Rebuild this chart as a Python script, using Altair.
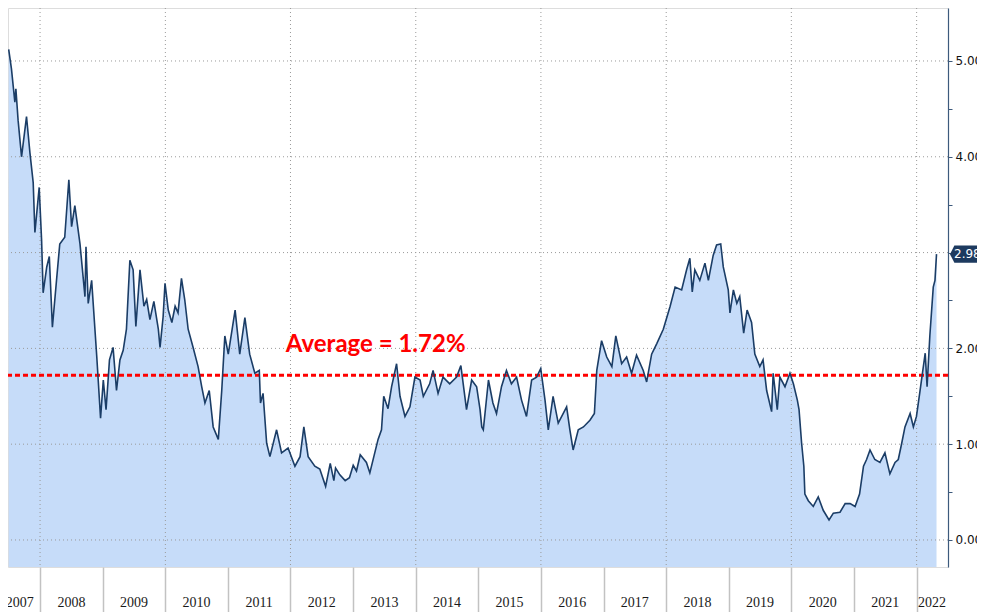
import altair as alt
import pandas as pd

# ---- data (US 5Y yield, %) ----
dates = [
    "2007-07-02", "2007-07-18", "2007-08-07", "2007-08-13", "2007-08-26", "2007-09-15", "2007-10-14",
    "2007-11-03", "2007-11-22", "2007-12-02", "2007-12-27",
    "2008-01-10", "2008-01-19", "2008-02-09", "2008-02-24", "2008-03-13", "2008-04-06", "2008-04-25",
    "2008-05-24", "2008-06-17", "2008-07-03", "2008-07-22", "2008-08-21", "2008-09-19", "2008-09-25",
    "2008-10-08", "2008-10-28", "2008-11-27", "2008-12-19",
    "2009-01-04", "2009-01-20", "2009-02-09", "2009-03-02", "2009-03-22", "2009-04-11", "2009-04-30",
    "2009-05-19", "2009-06-08", "2009-06-27", "2009-07-13", "2009-08-06", "2009-08-29", "2009-09-14",
    "2009-10-03", "2009-10-26", "2009-11-21", "2009-12-01", "2009-12-19", "2009-12-30",
    "2010-01-18", "2010-02-08", "2010-02-27", "2010-03-16", "2010-04-05", "2010-04-24", "2010-05-14",
    "2010-06-12", "2010-07-11", "2010-08-01", "2010-08-20", "2010-09-14", "2010-10-07", "2010-11-06",
    "2010-11-26", "2010-12-14",
    "2011-01-03", "2011-02-12", "2011-03-11", "2011-04-10", "2011-05-08", "2011-06-07", "2011-07-03",
    "2011-07-10", "2011-07-25", "2011-08-15", "2011-09-03", "2011-10-12", "2011-11-10", "2011-12-18",
    "2012-01-27", "2012-02-26", "2012-03-19", "2012-04-13", "2012-05-22", "2012-06-20", "2012-07-24",
    "2012-08-20", "2012-09-10", "2012-09-20", "2012-10-15", "2012-11-15", "2012-12-10",
    "2013-01-01", "2013-01-20", "2013-02-11", "2013-03-19", "2013-04-08", "2013-05-26", "2013-06-15",
    "2013-06-28", "2013-07-23", "2013-08-13", "2013-09-11", "2013-10-01", "2013-10-30", "2013-11-28",
    "2013-12-27",
    "2014-01-26", "2014-02-14", "2014-03-23", "2014-04-12", "2014-05-11", "2014-06-09", "2014-07-18",
    "2014-08-27", "2014-09-21", "2014-10-24", "2014-11-23", "2014-12-22",
    "2015-01-11", "2015-01-21", "2015-01-30", "2015-03-01", "2015-03-27", "2015-04-17", "2015-05-16",
    "2015-06-14", "2015-07-13", "2015-08-12", "2015-09-10", "2015-10-09", "2015-11-08", "2015-12-07",
    "2015-12-31",
    "2016-01-25", "2016-02-13", "2016-03-12", "2016-04-11", "2016-05-30", "2016-06-18", "2016-07-07",
    "2016-08-06", "2016-09-05", "2016-10-13", "2016-11-08", "2016-11-22", "2016-12-20",
    "2017-01-19", "2017-02-18", "2017-03-13", "2017-04-16", "2017-05-15", "2017-06-13", "2017-07-12",
    "2017-08-20", "2017-09-09", "2017-10-08", "2017-11-07", "2017-12-15",
    "2018-01-24", "2018-02-22", "2018-04-01", "2018-04-30", "2018-05-19", "2018-06-02", "2018-06-17",
    "2018-07-16", "2018-08-15", "2018-09-04", "2018-10-02", "2018-10-22", "2018-11-15", "2018-11-30",
    "2018-12-29",
    "2019-01-08", "2019-01-28", "2019-02-17", "2019-03-06", "2019-03-29", "2019-04-18", "2019-05-14",
    "2019-06-02", "2019-07-01", "2019-07-20", "2019-08-10", "2019-09-08", "2019-09-17", "2019-10-11",
    "2019-10-26", "2019-11-25", "2019-12-24",
    "2020-01-13", "2020-02-05", "2020-02-15", "2020-03-01", "2020-03-14", "2020-03-20", "2020-04-09",
    "2020-05-08", "2020-06-06", "2020-07-05", "2020-08-08", "2020-09-02", "2020-10-11", "2020-11-10",
    "2020-12-09",
    "2021-01-07", "2021-02-02", "2021-02-25", "2021-03-15", "2021-04-04", "2021-05-02", "2021-06-01",
    "2021-06-30", "2021-07-29", "2021-08-28", "2021-09-16", "2021-10-06", "2021-10-25", "2021-11-24",
    "2021-12-13", "2021-12-31",
    "2022-01-21", "2022-02-20", "2022-03-03", "2022-03-19", "2022-04-08", "2022-04-18", "2022-04-27",
]
yields = [
    5.12, 4.92, 4.57, 4.71, 4.38, 4.00, 4.42,
    4.04, 3.73, 3.21, 3.68,
    3.13, 2.58, 2.85, 2.96, 2.22, 2.71, 3.09,
    3.16, 3.76, 3.27, 3.49, 3.09, 2.54, 3.06,
    2.47, 2.71, 1.91, 1.27,
    1.67, 1.36, 1.88, 2.01, 1.56, 1.88, 1.98,
    2.20, 2.92, 2.82, 2.23, 2.82, 2.44, 2.51,
    2.30, 2.49, 2.20, 2.01, 2.33, 2.68,
    2.40, 2.27, 2.44, 2.37, 2.73, 2.51, 2.20,
    2.01, 1.81, 1.60, 1.43, 1.56, 1.18, 1.05,
    1.56, 2.13,
    1.94, 2.40, 1.94, 2.32, 1.94, 1.74, 1.77,
    1.43, 1.53, 1.01, 0.87, 1.15, 0.91, 0.96,
    0.77, 0.87, 1.18, 0.87, 0.77, 0.74, 0.56,
    0.80, 0.62, 0.75, 0.68, 0.62, 0.65,
    0.78, 0.72, 0.89, 0.81, 0.70, 1.05, 1.15,
    1.50, 1.37, 1.60, 1.84, 1.50, 1.29, 1.39,
    1.70,
    1.67, 1.50, 1.63, 1.77, 1.53, 1.70, 1.63,
    1.70, 1.82, 1.36, 1.67, 1.60,
    1.36, 1.18, 1.15, 1.67, 1.43, 1.32, 1.60,
    1.77, 1.63, 1.70, 1.46, 1.29, 1.67, 1.70,
    1.79,
    1.46, 1.15, 1.50, 1.22, 1.39, 1.15, 0.94,
    1.15, 1.18, 1.25, 1.32, 1.77, 2.08,
    1.91, 1.81, 2.13, 1.84, 1.91, 1.74, 1.93,
    1.77, 1.65, 1.94, 2.05, 2.20,
    2.44, 2.64, 2.61, 2.82, 2.94, 2.59, 2.82,
    2.71, 2.89, 2.71, 2.97, 3.08, 3.09, 2.85,
    2.61,
    2.37, 2.61, 2.47, 2.54, 2.16, 2.40, 2.27,
    1.94, 1.81, 1.88, 1.56, 1.34, 1.74, 1.36,
    1.70, 1.60, 1.74,
    1.63, 1.46, 1.36, 1.01, 0.77, 0.48, 0.41,
    0.35, 0.45, 0.31, 0.21, 0.28, 0.29, 0.38,
    0.38,
    0.35, 0.48, 0.77, 0.84, 0.94, 0.84, 0.81,
    0.91, 0.69, 0.81, 0.84, 1.01, 1.18, 1.32,
    1.18, 1.29,
    1.56, 1.95, 1.60, 2.13, 2.64, 2.71, 2.9835,
]

AVERAGE = 1.72
LAST_VALUE = 2.9835
avg_label = "Average = 1.72%"
avg_label_date = ["2011-12-05"]
avg_label_value = [1.96]

year_labels = [str(y) for y in range(2007, 2023)]
year_label_dates = ["2007-09-05"] + [f"{y}-07-02" for y in range(2008, 2022)] + ["2022-04-01"]
separator_years = list(range(2008, 2023))
grid_year_dates = [f"{y}-01-01" for y in range(2008, 2023, 2)]
grid_values = [0, 1, 2, 3, 4, 5]
y_tick_values = [0, 0.5, 1, 1.5, 2, 2.5, 3, 3.5, 4, 4.5, 5]

# ---- layout ----
W, H = 940, 559
Y_MIN, Y_MAX = -0.282, 5.553

x_scale = alt.Scale(domain=[alt.DateTime(year=2007, month=6, date=28, utc=True),
                            alt.DateTime(year=2022, month=7, date=3, utc=True)])
y_scale = alt.Scale(domain=[Y_MIN, Y_MAX], nice=False, zero=False)

x_axis = alt.Axis(
    values=[alt.DateTime(year=y, month=1, date=1, utc=True) for y in separator_years],
    labels=False, grid=False, domain=False, title=None,
    tickSize=45, tickColor="#c2c2c2", tickWidth=1.5,
)
y_axis = alt.Axis(
    orient="right", values=y_tick_values, grid=False, title=None,
    labelExpr="datum.value % 1 == 0 && datum.value != 3 ? format(datum.value, '.4f') : ''",
    labelFont="DejaVu Sans", labelFontSize=12, labelColor="#111111", labelPadding=3,
    domainColor="#3d5a7c", domainWidth=1.2, tickColor="#3d5a7c", tickSize=4,
)


def X(field):
    return alt.X(field, type="temporal", scale=x_scale, axis=x_axis)


def Y(field):
    return alt.Y(field, type="quantitative", scale=y_scale, axis=y_axis)


df = pd.DataFrame({"date": dates, "value": yields})
df_hgrid = pd.DataFrame({"value": grid_values})
df_vgrid = pd.DataFrame({"date": grid_year_dates})
df_avg = pd.DataFrame({"value": [AVERAGE]})
df_ann = pd.DataFrame({"date": avg_label_date, "value": avg_label_value, "label": [avg_label]})
df_years = pd.DataFrame({"date": year_label_dates, "label": year_labels})
df_last = pd.DataFrame({"value": [LAST_VALUE], "label": [f"{LAST_VALUE:.4f}"]})

area = alt.Chart(df).mark_area(color="#c6dcf9", opacity=1).encode(
    x=X("date"), y=Y("value"), y2=alt.datum(Y_MIN)
)

hgrid = alt.Chart(df_hgrid).mark_rule(color="#9a9a9a", strokeDash=[1, 3], strokeWidth=1).encode(
    y=Y("value")
)
vgrid = alt.Chart(df_vgrid).mark_rule(color="#9a9a9a", strokeDash=[1, 3], strokeWidth=1).encode(
    x=X("date")
)

avg_rule = alt.Chart(df_avg).mark_rule(color="#ff0000", strokeDash=[5, 3], strokeWidth=3).encode(
    y=Y("value")
)

line = alt.Chart(df).mark_line(color="#1b3d66", strokeWidth=1.6).encode(
    x=X("date"), y=Y("value")
)

ann = alt.Chart(df_ann).mark_text(
    color="#ff0000", font="Lato", fontWeight="bold", fontSize=24, align="left", baseline="alphabetic"
).encode(x=X("date"), y=Y("value"), text="label:N")

year_text = alt.Chart(df_years).mark_text(
    font="Liberation Sans Narrow", fontSize=14, color="#1a1a1a", align="center", baseline="alphabetic"
).encode(x=X("date"), y=alt.value(H + 40), text="label:N")

tag_shape = "M-1,0 L-0.8,-0.39 L1,-0.39 L1,0.39 L-0.8,0.39 Z"
tag = alt.Chart(df_last).mark_point(
    shape=tag_shape, size=1936, filled=True, color="#1d3a5f", opacity=1
).encode(x=alt.value(W + 24), y=Y("value"))
tag_text = alt.Chart(df_last).mark_text(
    color="white", font="DejaVu Sans", fontSize=12, align="left", baseline="middle"
).encode(x=alt.value(W + 6), y=Y("value"), text="label:N")

chart = alt.layer(
    area, hgrid, vgrid, avg_rule, line, ann, year_text, tag, tag_text
).properties(
    width=W, height=H,
    padding={"left": 0, "top": 0, "right": 29, "bottom": 45},
    autosize=alt.AutoSizeParams(type="none"),
).configure_view(stroke=None).configure(background="white")

chart.save("out.html", embed_options={"renderer": "svg", "actions": False})
